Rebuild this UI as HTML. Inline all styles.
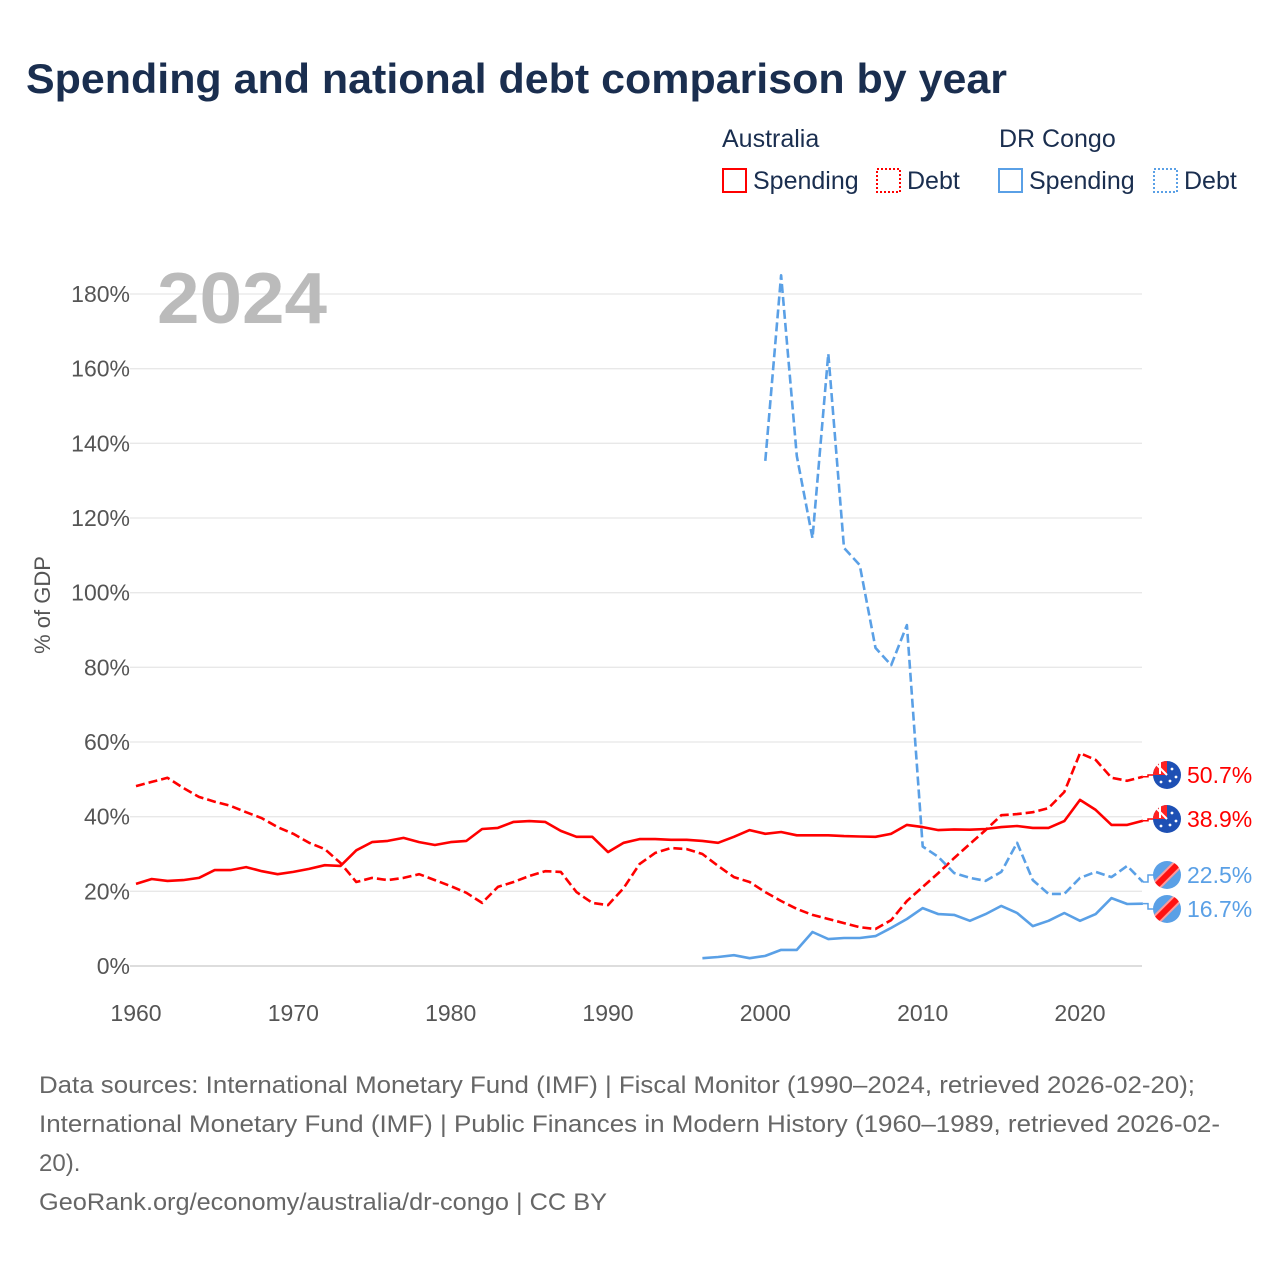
<!DOCTYPE html>
<html><head><meta charset="utf-8"><style>
body{margin:0;width:1280px;height:1280px;background:#fff;font-family:"Liberation Sans",sans-serif;overflow:hidden}
svg text{font-family:"Liberation Sans",sans-serif}
</style></head><body>
<svg id="chart" width="1280" height="1280" xmlns="http://www.w3.org/2000/svg">
<text x="26" y="93" font-size="42" font-weight="bold" fill="#1a2e4f" textLength="981" lengthAdjust="spacingAndGlyphs">Spending and national debt comparison by year</text>
<g font-size="25" fill="#1a2e4f">
<text x="722" y="147">Australia</text>
<text x="999" y="147">DR Congo</text>
<g><rect x="723" y="169" width="23" height="23" fill="none" stroke="#ff0000" stroke-width="2"/><text x="753" y="189">Spending</text></g>
<g><rect x="877" y="169" width="23" height="23" fill="none" stroke="#ff0000" stroke-width="2" stroke-dasharray="2,2"/><text x="907" y="189">Debt</text></g>
<g><rect x="999" y="169" width="23" height="23" fill="none" stroke="#5aa0e6" stroke-width="2"/><text x="1029" y="189">Spending</text></g>
<g><rect x="1154" y="169" width="23" height="23" fill="none" stroke="#5aa0e6" stroke-width="2" stroke-dasharray="2,2"/><text x="1184" y="189">Debt</text></g>
</g>
<g id="grid"></g>
<text x="157" y="323" font-size="72" font-weight="bold" fill="#bbbbbb" textLength="170" lengthAdjust="spacingAndGlyphs">2024</text>
<text transform="translate(50,605) rotate(-90)" text-anchor="middle" font-size="22" fill="#555">% of GDP</text>
<g id="series"></g>
<g id="ends"></g>
<g font-size="24" fill="#666">
<text x="39" y="1093" textLength="1156" lengthAdjust="spacingAndGlyphs">Data sources: International Monetary Fund (IMF) | Fiscal Monitor (1990–2024, retrieved 2026-02-20);</text>
<text x="39" y="1132" textLength="1181" lengthAdjust="spacingAndGlyphs">International Monetary Fund (IMF) | Public Finances in Modern History (1960–1989, retrieved 2026-02-</text>
<text x="39" y="1171">20).</text>
<text x="39" y="1210" textLength="568" lengthAdjust="spacingAndGlyphs">GeoRank.org/economy/australia/dr-congo | CC BY</text>
</g>
</svg>
<script>
const yTicks=[0,20,40,60,80,100,120,140,160,180];
const xTicks=[1960,1970,1980,1990,2000,2010,2020];
const ausSpendYears=[1960,2024];
const ausSpending=[22,23.3,22.8,23,23.6,25.7,25.7,26.5,25.4,24.6,25.2,26,27,26.8,31,33.2,33.5,34.3,33.2,32.4,33.2,33.5,36.7,37,38.6,38.8,38.6,36.2,34.6,34.6,30.5,33,34,34,33.8,33.8,33.5,33,34.6,36.4,35.4,35.9,35,35,35,34.8,34.7,34.6,35.4,37.8,37.2,36.4,36.6,36.5,36.7,37.2,37.5,37,37,38.8,44.5,41.8,37.8,37.8,38.9];
const ausDebt=[48.2,49.3,50.4,47.7,45.3,44,42.9,41.2,39.6,37.2,35.4,33,31.3,27.6,22.5,23.6,23,23.6,24.6,23,21.4,19.6,16.9,21.2,22.5,24.1,25.4,25.2,19.8,16.9,16.3,20.9,27.3,30.3,31.6,31.3,30,26.8,23.8,22.5,19.8,17.4,15.3,13.7,12.6,11.5,10.4,9.9,12.3,17.4,21.2,24.9,28.9,32.7,36.4,40.4,40.7,41.2,42.3,46.6,57,55.2,50.4,49.6,50.7];
const codSpendStart=1996;
const codSpending=[2.1,2.4,2.9,2.1,2.7,4.3,4.3,9.1,7.2,7.5,7.5,8,10.2,12.6,15.5,13.9,13.7,12.1,13.9,16.1,14.2,10.7,12.1,14.2,12.1,13.9,18.2,16.6,16.7];
const codDebtStart=2000;
const codDebt=[135.3,185,136.6,114.6,164,112,107.4,85.2,80.6,91.3,32,29.2,24.9,23.6,22.8,25.2,33,23,19.3,19.3,23.6,25.2,23.8,26.8,22.5];
const endLabels=["50.7%","38.9%","22.5%","16.7%"];
const X=y=>136+(y-1960)*944/60;
const Y=v=>966-v*672/180;
const NS="http://www.w3.org/2000/svg";
function mk(tag,attrs,parent){const e=document.createElementNS(NS,tag);for(const k in attrs)e.setAttribute(k,attrs[k]);parent.appendChild(e);return e;}
const grid=document.getElementById('grid');
yTicks.forEach(t=>{
  const l=mk('line',{x1:130,x2:1142,y1:Y(t),y2:Y(t),stroke:t===0?'#dddddd':'#e8e8e8','stroke-width':t===0?2:1.3},grid);
  
  
  const tx=mk('text',{x:130,y:Y(t)+8,'text-anchor':'end','font-size':23,fill:'#555'},grid);
  tx.textContent=t+'%';
  
  
});
xTicks.forEach(t=>{
  const tx=mk('text',{x:X(t),y:1021,'text-anchor':'middle','font-size':23,fill:'#555'},grid);
  tx.textContent=t;
  
  
});
const series=document.getElementById('series');
function line(start,vals,color,dash,name){
  const d=vals.map((v,i)=>(i?'L':'M')+X(start+i).toFixed(1)+','+Y(v).toFixed(1)).join('');
  const p=mk('path',{d:d,fill:'none',stroke:color,'stroke-width':2.6,'stroke-linejoin':'round'},series);
  if(dash)p.setAttribute('stroke-dasharray','9,4');
  
  
}
line(ausSpendYears[0],ausSpending,'#ff0000',false,'aus-spending-line');
line(ausSpendYears[0],ausDebt,'#ff0000',true,'aus-debt-line');
line(codSpendStart,codSpending,'#5aa0e6',false,'cod-spending-line');
line(codDebtStart,codDebt,'#5aa0e6',true,'cod-debt-line');
const ends=document.getElementById('ends');
const endVals=[ausDebt[ausDebt.length-1],ausSpending[ausSpending.length-1],codDebt[codDebt.length-1],codSpending[codSpending.length-1]];
const endPos=[775,819,875,909];
const endColors=['#ff0000','#ff0000','#5aa0e6','#5aa0e6'];
const endNames=['aus-debt','aus-spending','cod-debt','cod-spending'];
endVals.forEach((v,i)=>{
  const g=mk('g',{},ends);
  
  
  const y=endPos[i];
  mk('path',{d:`M${X(2024)},${Y(v)}L1148,${Y(v)}L1148,${y}L1154,${y}`,fill:'none',stroke:endColors[i],'stroke-width':1.5},g);
  const cx=1167;
  if(i<2){
    mk('circle',{cx:cx,cy:y,r:14,fill:'#1e50b4'},g);
    mk('path',{d:`M${cx-14},${y}A14,14 0 0 1 ${cx},${y-14}L${cx},${y}Z`,fill:'#ff2222'},g);
    mk('path',{d:`M${cx-10},${y-10}L${cx},${y}M${cx-7},${y-1}L${cx-7},${y-13}`,stroke:'#fff','stroke-width':2},g);
    [[5,-6],[9,2],[3,6],[-6,7]].forEach(s=>mk('circle',{cx:cx+s[0],cy:y+s[1],r:1.4,fill:'#fff'},g));
  }else{
    mk('circle',{cx:cx,cy:y,r:14,fill:'#5aa0e6'},g);
    const clip=mk('clipPath',{id:'c'+i},g);
    mk('circle',{cx:cx,cy:y,r:14},clip);
    mk('line',{x1:cx-14,y1:y+14,x2:cx+14,y2:y-14,stroke:'#ff9999','stroke-width':10,'clip-path':`url(#c${i})`},g);
    mk('line',{x1:cx-14,y1:y+14,x2:cx+14,y2:y-14,stroke:'#ff1111','stroke-width':6,'clip-path':`url(#c${i})`},g);
  }
  const t=mk('text',{x:1187,y:y+8,'font-size':23,fill:endColors[i]},g);
  t.textContent=endLabels[i];
});
</script>
</body></html>
